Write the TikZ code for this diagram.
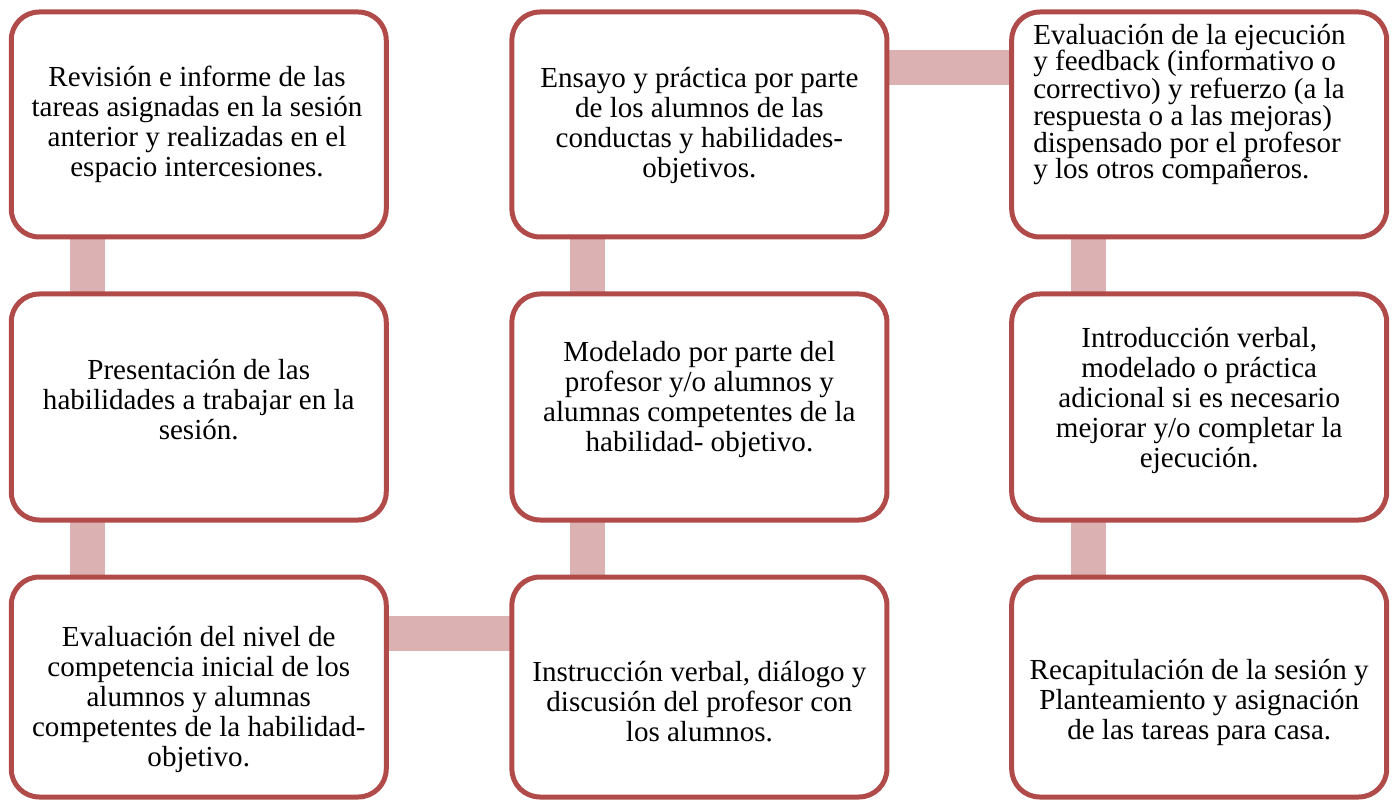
\documentclass[tikz,border=0pt]{standalone}
\usepackage{fontspec}
\setmainfont{Liberation Serif}
\usetikzlibrary{backgrounds}
\definecolor{boxred}{RGB}{176,75,74}
\definecolor{linkpink}{RGB}{219,178,177}
\begin{document}
\begin{tikzpicture}[x=0.75pt,y=-0.75pt,
  stepbox/.style={draw=boxred, line width=3.75pt, rounded corners=21pt, fill=white,
    minimum width=281.25pt, inner sep=0pt, outer sep=0pt},
  txt/.style={font=\fontsize{21.8}{22.5}\selectfont, align=center, inner sep=0pt},
  txttight/.style={font=\fontsize{21.8}{20}\selectfont, align=left, inner sep=0pt},
  link/.style={draw=linkpink, line width=26.25pt}]
\useasboundingbox (0,0) rectangle (1392,802);

% boxes
\node[stepbox, minimum height=168.75pt] (rev)     at (198.75,124.5) {};
\node[stepbox, minimum height=169.5pt]  (pres)    at (198.75,407) {};
\node[stepbox, minimum height=165pt]    (evalini) at (198.75,687) {};
\node[stepbox, minimum height=168.75pt] (ensayo)  at (699.4,124.5) {};
\node[stepbox, minimum height=169.5pt]  (model)   at (699.4,407) {};
\node[stepbox, minimum height=165pt]    (instr)   at (699.4,687) {};
\node[stepbox, minimum height=168.75pt] (evalej)  at (1199.2,124.5) {};
\node[stepbox, minimum height=169.5pt]  (intro)   at (1199.2,407) {};
\node[stepbox, minimum height=165pt]    (recap)   at (1199.2,687) {};

% connectors
\begin{scope}[on background layer]
\draw[link] ([xshift=57pt]rev.south west) -- ([xshift=57pt]pres.north west);
\draw[link] ([xshift=57pt]pres.south west) -- ([xshift=57pt]evalini.north west);
\draw[link] ([yshift=-42pt]evalini.north east) -- ([yshift=-42pt]instr.north west);
\draw[link] ([xshift=57pt]instr.north west) -- ([xshift=57pt]model.south west);
\draw[link] ([xshift=57pt]model.north west) -- ([xshift=57pt]ensayo.south west);
\draw[link] ([yshift=-42pt]ensayo.north east) -- ([yshift=-42pt]evalej.north west);
\draw[link] ([xshift=57.5pt]evalej.south west) -- ([xshift=57.5pt]intro.north west);
\draw[link] ([xshift=57.5pt]intro.south west) -- ([xshift=57.5pt]recap.north west);
\end{scope}

% texts
\node[txt] (trev) at (197,124.5) {Revisión e informe de las\\tareas asignadas en la sesión\\anterior y realizadas en el\\espacio intercesiones.};
\node[txt] (tpres) at (198.75,400) {Presentación de las\\habilidades a trabajar en la\\sesión.};
\node[txt] (tevalini) at (198.75,699) {Evaluación del nivel de\\competencia inicial de los\\alumnos y alumnas\\competentes de la habilidad-\\objetivo.};
\node[txt] (tensayo) at (699.4,125.5) {Ensayo y práctica por parte\\de los alumnos de las\\conductas y habilidades-\\objetivos.};
\node[txt] (tmodel) at (699.4,400) {Modelado por parte del\\profesor y/o alumnos y\\alumnas competentes de la\\habilidad- objetivo.};
\node[txt] (tinstr) at (699.4,702) {Instrucción verbal, diálogo y\\discusión del profesor con\\los alumnos.};
\node[txttight, anchor=west] (tevalej) at (1033,104.5) {Evaluación de la ejecución\\y feedback (informativo o\\correctivo) y refuerzo (a la\\respuesta o a las mejoras)\\dispensado por el profesor\\y los otros compañeros.};
\node[txt] (tintro) at (1199.2,400) {Introducción verbal,\\modelado o práctica\\adicional si es necesario\\mejorar y/o completar la\\ejecución.};
\node[txt] (trecap) at (1199.2,702) {Recapitulación de la sesión y\\Planteamiento y asignación\\de las tareas para casa.};
\end{tikzpicture}
\end{document}
